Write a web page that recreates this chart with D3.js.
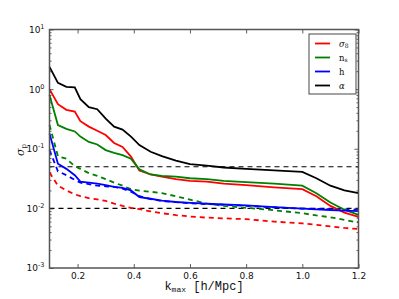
<!DOCTYPE html>
<html>
<head>
<meta charset="utf-8">
<script src="https://cdn.jsdelivr.net/npm/d3@7"></script>
<style>
  body { margin: 0; background: #fff; }
  svg { display: block; }
</style>
</head>
<body>
<div id="chart"></div>
<script>
// k values shared by every curve
var kmax = [0.1, 0.13, 0.16, 0.19, 0.21, 0.24, 0.27, 0.3, 0.33, 0.36, 0.39, 0.42, 0.46, 0.5,
            0.55, 0.6, 0.66, 0.72, 0.8, 0.9, 1.0, 1.05, 1.1, 1.15, 1.2];

// solid curves
var sigma8 = [1.0, 0.56, 0.45, 0.42, 0.29, 0.235, 0.2, 0.17, 0.125, 0.107, 0.074, 0.043, 0.037, 0.034,
              0.031, 0.029, 0.028, 0.026, 0.0245, 0.0225, 0.021, 0.016, 0.011, 0.0085, 0.0072];
var ns     = [0.8, 0.25, 0.215, 0.195, 0.16, 0.13, 0.118, 0.095, 0.085, 0.078, 0.068, 0.045, 0.037, 0.035,
              0.034, 0.032, 0.031, 0.029, 0.0275, 0.026, 0.024, 0.018, 0.0125, 0.0095, 0.0078];
var hub    = [0.18, 0.056, 0.046, 0.036, 0.028, 0.027, 0.026, 0.0245, 0.023, 0.022, 0.02, 0.0155, 0.0145, 0.0135,
              0.0128, 0.0124, 0.012, 0.0117, 0.0112, 0.0105, 0.0099, 0.0096, 0.0094, 0.0092, 0.009];
var alpha  = [2.36, 1.27, 1.09, 1.07, 0.68, 0.5, 0.46, 0.32, 0.235, 0.21, 0.16, 0.115, 0.089, 0.075,
              0.063, 0.0553, 0.052, 0.0485, 0.046, 0.0435, 0.041, 0.032, 0.024, 0.02, 0.018];

// dashed curves
var sigma8D = [0.04, 0.024, 0.02, 0.0172, 0.016, 0.0148, 0.0142, 0.0133, 0.012, 0.011, 0.0102, 0.0097, 0.0089, 0.0083,
               0.0077, 0.0073, 0.007, 0.0068, 0.0066, 0.006, 0.0056, 0.0053, 0.005, 0.0047, 0.0045];
var nsD     = [0.25, 0.075, 0.068, 0.051, 0.046, 0.039, 0.035, 0.031, 0.027, 0.024, 0.021, 0.0198, 0.019, 0.018,
               0.016, 0.014, 0.012, 0.011, 0.0102, 0.0093, 0.0083, 0.0076, 0.0071, 0.0064, 0.0058];
var hubD    = [0.095, 0.042, 0.036, 0.03, 0.027, 0.0255, 0.024, 0.0235, 0.023, 0.0215, 0.019, 0.016, 0.0143, 0.0133,
               0.0127, 0.0122, 0.0118, 0.0115, 0.011, 0.0104, 0.0099, 0.0098, 0.0097, 0.0096, 0.0095];

var refLevels = [0.05, 0.01];
var xTicks = [0.2, 0.4, 0.6, 0.8, 1.0, 1.2];
var yTicks = [1e-3, 1e-2, 1e-1, 1e0, 1e1];
var yExp = ["-3", "-2", "-1", "0", "1"];

var w = 399, h = 299;
var pl = 49.5, pr = 358.5, pt = 29.5, pb = 268;

var xScale = d3.scaleLinear().domain([0.1, 1.2]).range([pl, pr]);
var yScale = d3.scaleLog().domain([1e-3, 10]).range([pb, pt]);

var svg = d3.select("#chart").append("svg")
  .attr("width", w).attr("height", h);

var plot = svg.append("g");

// horizontal reference lines
plot.selectAll("line.ref")
  .data(refLevels)
  .enter().append("line")
  .attr("class", "ref")
  .attr("x1", pl).attr("x2", pr)
  .attr("y1", function(d) { return yScale(d); })
  .attr("y2", function(d) { return yScale(d); })
  .attr("stroke", "black").attr("stroke-width", 1.1)
  .attr("stroke-dasharray", "5,4");

var line = d3.line()
  .x(function(d, i) { return xScale(kmax[i]); })
  .y(function(d) { return yScale(d); });

var curves = [
  { v: sigma8D, c: "red", dash: true },
  { v: nsD, c: "green", dash: true },
  { v: hubD, c: "blue", dash: true },
  { v: sigma8, c: "red", dash: false },
  { v: ns, c: "green", dash: false },
  { v: hub, c: "blue", dash: false },
  { v: alpha, c: "black", dash: false }
];

plot.selectAll("path.curve")
  .data(curves)
  .enter().append("path")
  .attr("class", "curve")
  .attr("fill", "none")
  .attr("stroke", function(d) { return d.c; })
  .attr("stroke-width", 1.8)
  .attr("stroke-dasharray", function(d) { return d.dash ? "5,4" : null; })
  .attr("d", function(d) { return line(d.v); });

// minor log ticks
var minor = [];
for (var e = -3; e < 1; e++) {
  for (var m = 2; m < 10; m++) minor.push(m * Math.pow(10, e));
}

var axisColor = "#555";

function styleAxis(g) {
  g.select(".domain").remove();
  g.selectAll(".tick line").attr("stroke", "#333").attr("stroke-width", 0.8);
  g.selectAll("text").attr("fill", "#111").style("font-family", "DejaVu Sans, sans-serif").style("font-size", "9px");
}

// left axis
var yl = svg.append("g").attr("transform", "translate(" + pl + ",0)")
  .call(d3.axisLeft(yScale).tickValues(yTicks).tickSize(-4).tickPadding(5).tickFormat(function() { return "10"; }));
styleAxis(yl);
yl.selectAll("text").each(function(d, i) {
  d3.select(this).append("tspan").attr("dy", "-4").attr("font-size", "6.5px").text(yExp[i]);
});
svg.append("g").attr("transform", "translate(" + pl + ",0)")
  .call(d3.axisLeft(yScale).tickValues(minor).tickSize(-2).tickFormat(""))
  .call(styleAxis);

// right axis
svg.append("g").attr("transform", "translate(" + pr + ",0)")
  .call(d3.axisRight(yScale).tickValues(yTicks).tickSize(-4).tickFormat(""))
  .call(styleAxis);
svg.append("g").attr("transform", "translate(" + pr + ",0)")
  .call(d3.axisRight(yScale).tickValues(minor).tickSize(-2).tickFormat(""))
  .call(styleAxis);

// bottom and top axes
svg.append("g").attr("transform", "translate(0," + pb + ")")
  .call(d3.axisBottom(xScale).tickValues(xTicks).tickSize(-4).tickPadding(5).tickFormat(d3.format(".1f")))
  .call(styleAxis);
svg.append("g").attr("transform", "translate(0," + pt + ")")
  .call(d3.axisTop(xScale).tickValues(xTicks).tickSize(-4).tickFormat(""))
  .call(styleAxis);

// frame
svg.append("rect")
  .attr("x", pl).attr("y", pt)
  .attr("width", pr - pl).attr("height", pb - pt)
  .attr("fill", "none").attr("stroke", axisColor).attr("stroke-width", 1.5);

// axis labels
var xl = svg.append("text")
  .attr("x", (pl + pr) / 2).attr("y", 290)
  .attr("text-anchor", "middle")
  .style("font-family", "Liberation Mono, monospace").style("font-size", "12px")
  .attr("fill", "#111");
xl.append("tspan").text("k");
xl.append("tspan").attr("dy", 2).attr("font-size", "8px").text("max");
xl.append("tspan").attr("dy", -2).text(" [h/Mpc]");

var ylab = svg.append("text")
  .attr("transform", "translate(24,150) rotate(-90)")
  .attr("text-anchor", "middle")
  .style("font-family", "DejaVu Serif, serif").style("font-size", "11px")
  .attr("fill", "#111");
ylab.append("tspan").attr("font-style", "italic").text("σ");
ylab.append("tspan").attr("dy", 2).attr("font-size", "7px").text("p");

// legend
var legendNames = [["σ", "8"], ["n", "s"], ["h", ""], ["α", ""]];
var legendColors = ["red", "green", "blue", "black"];
var lg = svg.append("g");
lg.append("rect")
  .attr("x", 309).attr("y", 34).attr("width", 47).attr("height", 60)
  .attr("fill", "white").attr("stroke", "#333").attr("stroke-width", 0.9);
var rows = lg.selectAll("g.row").data(legendNames).enter().append("g")
  .attr("class", "row")
  .attr("transform", function(d, i) { return "translate(0," + (43.5 + i * 14) + ")"; });
rows.append("line")
  .attr("x1", 315).attr("x2", 330).attr("y1", 0).attr("y2", 0)
  .attr("stroke", function(d, i) { return legendColors[i]; }).attr("stroke-width", 1.8);
var lt = rows.append("text")
  .attr("x", 339).attr("y", 3)
  .style("font-family", "DejaVu Serif, serif").style("font-size", "8.5px")
  .attr("fill", "#111");
lt.append("tspan").attr("font-style", function(d) { return d[0] === "σ" || d[0] === "α" ? "italic" : null; })
  .text(function(d) { return d[0]; });
lt.append("tspan").attr("dy", 1.5).attr("font-size", "6px").text(function(d) { return d[1]; });
</script>
</body>
</html>
